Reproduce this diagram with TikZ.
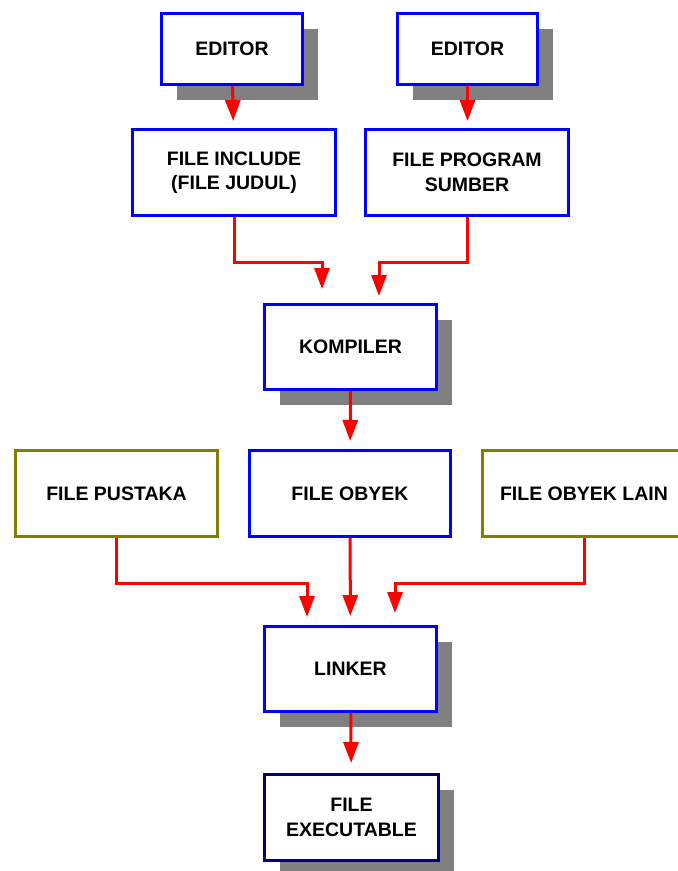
\documentclass[tikz,border=0pt]{standalone}
\usepackage{fontspec}
\setmainfont{Liberation Sans}
\usetikzlibrary{arrows.meta,shadows}

\definecolor{boxblue}{rgb}{0,0,1}
\definecolor{boxolive}{rgb}{0.5,0.5,0}
\definecolor{boxnavy}{rgb}{0,0,0.5}
\definecolor{shadowgray}{rgb}{0.5,0.5,0.5}
\definecolor{arrowred}{rgb}{1,0,0}

\tikzset{
  filebox/.style={rectangle, draw=boxblue, line width=3pt, fill=white,
    inner sep=0pt, align=center,
    font=\fontsize{19.5}{24.5}\selectfont\bfseries},
  shadowed/.style={general shadow={fill=shadowgray, shadow xshift=15pt, shadow yshift=-15pt}},
  arr/.style={draw=arrowred, line width=3pt, -{Triangle[width=15pt,length=21pt]}}
}

\begin{document}
\begin{tikzpicture}[x=1pt,y=-1pt]
  \useasboundingbox (0,0) rectangle (678,871);

  % Editors on top
  \node[filebox, shadowed, minimum width=141pt, minimum height=71pt] (ed1) at (232,49) {EDITOR};
  \node[filebox, shadowed, minimum width=140pt, minimum height=71pt] (ed2) at (467.5,49) {EDITOR};

  % Source files
  \node[filebox, minimum width=203pt, minimum height=86pt] (inc) at (234,172.5) {FILE INCLUDE\\(FILE JUDUL)};
  \node[filebox, minimum width=203pt, minimum height=86pt] (src) at (467,172.5) {FILE PROGRAM\\SUMBER};

  % Compiler
  \node[filebox, shadowed, minimum width=172pt, minimum height=85pt] (komp) at (350.5,347) {KOMPILER};

  % Object files and libraries
  \node[filebox, draw=boxolive, minimum width=202pt, minimum height=86pt] (pus) at (116.5,493.5) {FILE PUSTAKA};
  \node[filebox, minimum width=201pt, minimum height=86pt] (obj) at (350,493.5) {FILE OBYEK};
  \node[filebox, draw=boxolive, minimum width=203pt, minimum height=86pt] (lain) at (584,493.5) {FILE OBYEK LAIN};

  % Linker
  \node[filebox, shadowed, minimum width=172pt, minimum height=85pt] (link) at (350.5,669) {LINKER};

  % Executable
  \node[filebox, shadowed, draw=boxnavy, minimum width=174pt, minimum height=86pt] (exe) at (351.5,817.5) {FILE\\EXECUTABLE};

  % Arrow ends
  \coordinate (kin1) at (322,289);
  \coordinate (kin2) at (379,296);
  \coordinate (lin1) at (307,617);
  \coordinate (lin3) at (395,613);

  % Drawing arrows
  \draw[arr, shorten >=7pt] (ed1) -- (inc);
  \draw[arr, shorten >=7pt] (ed2.south) -- (ed2.south |- inc.north);
  \draw[arr] (inc.south) -- ++(0,45.5) -| (kin1);
  \draw[arr] (src.south) -- ++(0,45.5) -| (kin2);
  \draw[arr, shorten >=8pt] (komp) -- (obj);
  \draw[arr] (pus.south) -- ++(0,45.5) -| (lin1);
  \draw[arr, shorten >=9pt] (obj) -- (link);
  \draw[arr] (lain.south) -- ++(0,45.5) -| (lin3);
  \draw[arr, shorten >=10pt] (link) -- (exe);
\end{tikzpicture}
\end{document}
